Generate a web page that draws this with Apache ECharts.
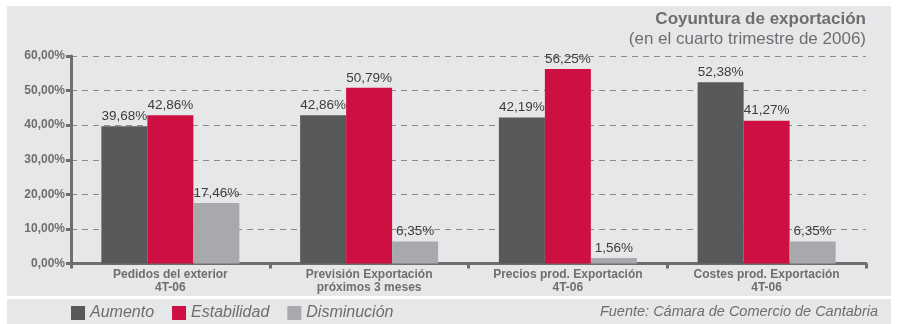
<!DOCTYPE html>
<html>
<head>
<meta charset="utf-8">
<script src="https://cdn.jsdelivr.net/npm/echarts@6/dist/echarts.min.js"></script>
<style>
html, body { margin: 0; padding: 0; background: #ffffff; }
#chart { width: 897px; height: 324px; }
</style>
</head>
<body>
<div id="chart"></div>
<script>
// datos
var categorias = [
    'Pedidos del exterior\n4T-06',
    'Previsión Exportación\npróximos 3 meses',
    'Precios prod. Exportación\n4T-06',
    'Costes prod. Exportación\n4T-06'
];
var aumento = [39.68, 42.86, 42.19, 52.38];
var estabilidad = [42.86, 50.79, 56.25, 41.27];
var disminucion = [17.46, 6.35, 1.56, 6.35];

var gris = '#6d6e70';
var fuente = '"Liberation Sans", Arial, sans-serif';

function fmtPct(v) {
    return v.toFixed(2).replace('.', ',') + '%';
}

function serie(nombre, datos, color) {
    return {
        name: nombre,
        type: 'bar',
        data: datos,
        barWidth: 46,
        barGap: '0%',
        itemStyle: { color: color },
        label: {
            show: true,
            position: 'top',
            distance: 3,
            color: '#3c3c3c',
            fontSize: 13.5,
            fontFamily: fuente,
            formatter: function (p) { return fmtPct(p.value); }
        }
    };
}

var chart = echarts.init(document.getElementById('chart'));
var opt = {
    backgroundColor: '#ffffff',
    textStyle: { fontFamily: fuente },
    graphic: [
        { type: 'rect', z: -10, shape: { x: 7, y: 6, width: 884, height: 290 }, style: { fill: '#e6e7e8' } },
        { type: 'rect', z: -10, shape: { x: 7, y: 299, width: 884, height: 30 }, style: { fill: '#e6e7e8' } },
        {
            type: 'text', right: 31, top: 11,
            style: { text: 'Coyuntura de exportación', fill: gris, font: 'bold 17px ' + fuente, textAlign: 'right' }
        },
        {
            type: 'text', right: 31, top: 31,
            style: { text: '(en el cuarto trimestre de 2006)', fill: gris, font: '17px ' + fuente, textAlign: 'right' }
        },
        {
            type: 'text', right: 19, top: 304,
            style: { text: 'Fuente: Cámara de Comercio de Cantabria', fill: gris, font: 'italic 14.5px ' + fuente, textAlign: 'right' }
        }
    ],
    legend: {
        left: 66,
        top: 300,
        icon: 'rect',
        itemWidth: 14,
        itemHeight: 14,
        itemGap: 18,
        textStyle: { color: gris, fontSize: 16, fontStyle: 'italic', fontFamily: fuente },
        data: ['Aumento', 'Estabilidad', 'Disminución']
    },
    grid: { left: 71, right: 31, top: 56, bottom: 60.5 },
    xAxis: {
        type: 'category',
        data: categorias,
        axisLine: { lineStyle: { color: gris, width: 3 } },
        axisTick: { show: true, length: 5, lineStyle: { color: gris, width: 3 } },
        axisLabel: {
            color: gris, fontSize: 12, fontWeight: 'bold', lineHeight: 13, margin: 5,
            fontFamily: fuente
        }
    },
    yAxis: {
        type: 'value',
        min: 0,
        max: 60,
        interval: 10,
        axisLine: { show: true, lineStyle: { color: gris, width: 3 } },
        axisTick: { show: true, length: 5, lineStyle: { color: gris, width: 3 } },
        axisLabel: {
            color: gris, fontSize: 12, fontWeight: 'bold', margin: 6, fontFamily: fuente,
            formatter: function (v) { return fmtPct(v); }
        },
        splitLine: { lineStyle: { color: '#8a8b8d', type: [6, 5], width: 1.2 } }
    },
    series: [
        serie('Aumento', aumento, '#58595b'),
        serie('Estabilidad', estabilidad, '#cd1041'),
        serie('Disminución', disminucion, '#a7a9ac')
    ]
};
chart.setOption(opt);
</script>
</body>
</html>
